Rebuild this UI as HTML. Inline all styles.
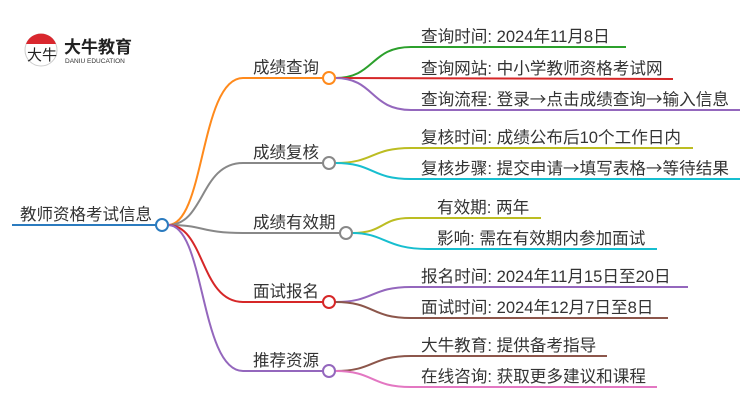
<!DOCTYPE html>
<html><head><meta charset="utf-8"><style>
body{margin:0;background:#fff;}
svg text{font-family:"Liberation Sans","Noto Sans CJK SC",sans-serif;fill:#333;}
svg tspan.a{font-family:"Noto Sans CJK SC",sans-serif;}
</style></head><body>
<svg width="750" height="410" viewBox="0 0 750 410" xmlns="http://www.w3.org/2000/svg">
<!-- logo -->
<circle cx="41" cy="50" r="16" fill="#fff" stroke="#ccc" stroke-width="1"/>
<path d="M26 44 A16 16 0 0 1 56 44 Z" fill="#d9272e"/>
<text x="27" y="60" font-size="15" style="fill:#222">大牛</text>
<text x="64" y="53" font-size="17" font-weight="bold" style="fill:#222">大牛教育</text>
<text x="65" y="63" font-size="6.5" style="fill:#333">DANIU EDUCATION</text>

<g fill="none" stroke-width="2">
<line x1="12" y1="225" x2="156" y2="225" stroke="#2b7bbf"/>
<path d="M168 225 C205 225 200 78 243 78 L323 78" stroke="#ff8a1c"/>
<path d="M168 225 C205 225 200 163 243 163 L323 163" stroke="#888"/>
<path d="M168 225 C205 225 200 233 243 233 L340 233" stroke="#888"/>
<path d="M168 225 C205 225 200 302 243 302 L323 302" stroke="#d62728"/>
<path d="M168 225 C205 225 200 371 243 371 L323 371" stroke="#9467bd"/>
<path d="M335 78 C375 78 370 47 411 47 L626 47" stroke="#2ca02c"/>
<path d="M335 78 L673 79" stroke="#d62728"/>
<path d="M335 78 C375 78 370 110 411 110 L740 110" stroke="#9467bd"/>
<path d="M335 163 C375 163 370 148 411 148 L693 148" stroke="#bcbd22"/>
<path d="M335 163 C375 163 370 179 411 179 L740 179" stroke="#17becf"/>
<path d="M352 233 C385 233 380 218 410 218 L541 218" stroke="#bcbd22"/>
<path d="M352 233 C385 233 385 249 428 249 L657 249" stroke="#17becf"/>
<path d="M335 302 C375 302 370 287 411 287 L688 287" stroke="#9467bd"/>
<path d="M335 302 C375 302 370 318 411 318 L668 318" stroke="#8c564b"/>
<path d="M335 371 C375 371 370 356 411 356 L607 356" stroke="#8c564b"/>
<path d="M335 371 C375 371 370 387 411 387 L657 387" stroke="#e377c2"/>
</g>
<g fill="#fff" stroke-width="2">
<circle cx="162" cy="225" r="6" stroke="#2b7bbf"/>
<circle cx="329" cy="78" r="6" stroke="#ff8a1c"/>
<circle cx="329" cy="163" r="6" stroke="#888"/>
<circle cx="346" cy="233" r="6" stroke="#888"/>
<circle cx="329" cy="302" r="6" stroke="#d62728"/>
<circle cx="329" cy="371" r="6" stroke="#9467bd"/>
</g>
<g font-size="16.5">
<text x="20" y="220">教师资格考试信息</text>
<text x="253" y="73">成绩查询</text>
<text x="253" y="158">成绩复核</text>
<text x="253" y="228">成绩有效期</text>
<text x="253" y="297">面试报名</text>
<text x="253" y="366">推荐资源</text>
</g>
<g font-size="16.6">
<text x="421" y="42">查询时间: 2024年11月8日</text>
<text x="421" y="74">查询网站: 中小学教师资格考试网</text>
<text x="421" y="105">查询流程: 登录<tspan class="a">→</tspan>点击成绩查询<tspan class="a">→</tspan>输入信息</text>
<text x="421" y="143">复核时间: 成绩公布后10个工作日内</text>
<text x="421" y="174">复核步骤: 提交申请<tspan class="a">→</tspan>填写表格<tspan class="a">→</tspan>等待结果</text>
<text x="437" y="213">有效期: 两年</text>
<text x="437" y="244">影响: 需在有效期内参加面试</text>
<text x="421" y="282">报名时间: 2024年11月15日至20日</text>
<text x="421" y="313">面试时间: 2024年12月7日至8日</text>
<text x="421" y="351">大牛教育: 提供备考指导</text>
<text x="421" y="382">在线咨询: 获取更多建议和课程</text>
</g>
</svg>
</body></html>
